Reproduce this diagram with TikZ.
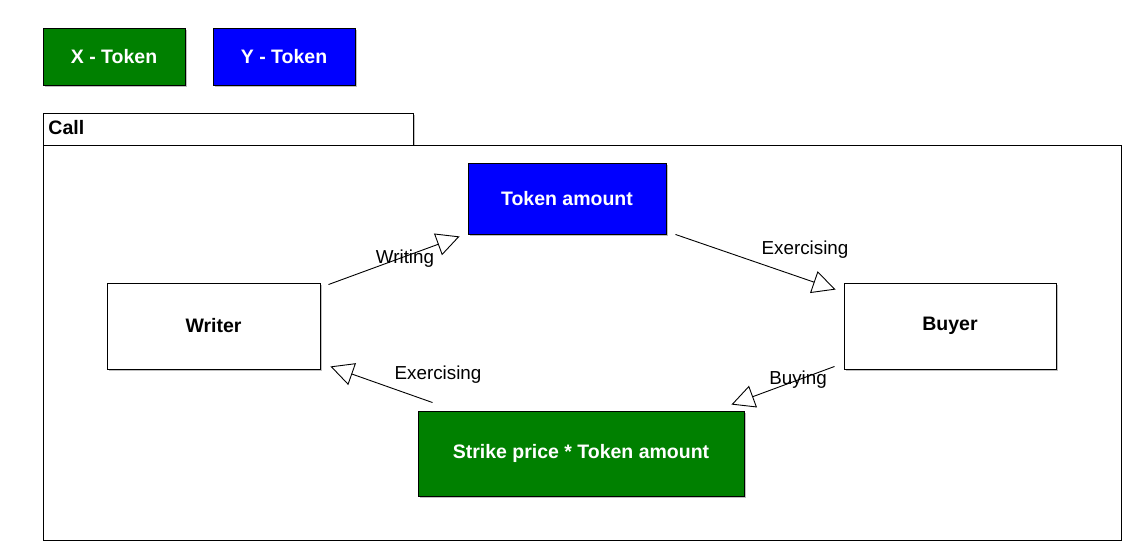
\documentclass[tikz,border=0pt]{standalone}
\usepackage{fontspec}
\setmainfont{Liberation Sans}
\usetikzlibrary{arrows.meta, shadows, positioning}

\definecolor{xgreen}{HTML}{008000}
\definecolor{yblue}{HTML}{0000FF}

\begin{document}
\begin{tikzpicture}[x=1pt, y=-1pt, line width=0.9pt,
                box/.style={draw, inner sep=0pt, font=\fontsize{19.5}{22}\selectfont\bfseries,
                    drop shadow={shadow xshift=2pt, shadow yshift=-2pt, fill=black!25, opacity=1}},
                xbox/.style={box, fill=xgreen, text=white},
                ybox/.style={box, fill=yblue, text=white},
                wbox/.style={box, fill=white},
                flow/.style={-{Triangle[open, length=23pt, width=23pt]}},
                lbl/.style={font=\fontsize{18.8}{21}\selectfont}
            ]
            \useasboundingbox (0,0) rectangle (1132,551);

            % legend
            \node[xbox, minimum width=142pt, minimum height=57pt] (xtok) at (114,56.5) {X - Token};
            \node[ybox, minimum width=142pt, minimum height=57pt] (ytok) at (284,56.5) {Y - Token};

            % call frame
            \draw[fill=white, drop shadow={shadow xshift=2pt, shadow yshift=-2pt, fill=black!25, opacity=1}]
                (43,113) rectangle (413,145);
            \node[anchor=west, inner sep=0pt, font=\fontsize{19.5}{22}\selectfont\bfseries] (call) at (48,128) {Call};
            \draw[fill=white] (43,145) rectangle (1121,540);

            \node[ybox, minimum width=198pt, minimum height=71pt] (token) at (567,198.5) {Token amount};
            \node[wbox, minimum width=213pt, minimum height=86pt] (writer) at (213.5,326) {Writer};
            \node[wbox, minimum width=212pt, minimum height=86pt] (buyer) at (950,326) {Buyer};
            \node[xbox, minimum width=326pt, minimum height=85pt] (strike) at (581,453.5) {Strike price * Token amount};

            \draw[flow] ([xshift=8pt,yshift=-2pt]writer.north east) -- ([xshift=-8pt,yshift=-2pt]token.south west);
            \draw[flow] ([xshift=9pt]token.south east) -- ([xshift=-8pt,yshift=-7pt]buyer.north west);
            \draw[flow] ([xshift=-9pt,yshift=3pt]buyer.south west) -- ([xshift=-13pt,yshift=6pt]strike.north east);
            \draw[flow] ([xshift=15pt,yshift=8pt]strike.north west) -- ([xshift=10pt,yshift=3pt]writer.south east);

            \node[lbl] (lwrite) at (405,259) {Writing};
            \node[lbl] (lexer1) at (805,250) {Exercising};
            \node[lbl] (lbuy) at (798,380) {Buying};
            \node[lbl] (lexer2) at (438,375) {Exercising};
            \end{tikzpicture}
\end{document}
